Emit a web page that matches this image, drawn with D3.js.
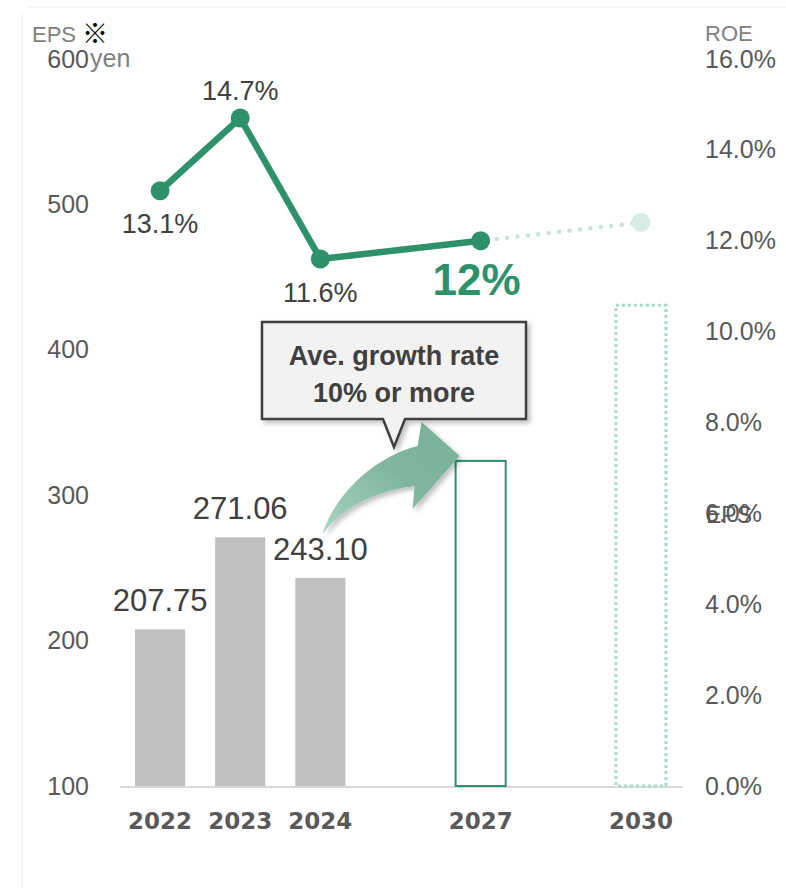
<!DOCTYPE html>
<html>
<head>
<meta charset="utf-8">
<script src="https://cdn.jsdelivr.net/npm/d3@7"></script>
<style>
  body { margin: 0; background: #fff; }
  svg text { font-family: "Liberation Sans", Arial, sans-serif; }
</style>
</head>
<body>
<div id="chart"></div>
<script>
// slots on the x axis (gaps keep 2027 / 2030 apart like the original)
var slots = ["2022", "2023", "2024", "gap1", "2027", "gap2", "2030"];
var years = ["2022", "2023", "2024", "2027", "2030"];
var eps = [207.75, 271.06, 243.10, 323.6, 430.7];
var epsLabels = ["207.75", "271.06", "243.10"];
var barKind = ["actual", "actual", "actual", "target", "vision"];
var roe = [13.1, 14.7, 11.6, 12.0, 12.4];
var roeLabels = ["13.1%", "14.7%", "11.6%", "12%"];
var epsTicks = [100, 200, 300, 400, 500, 600];
var roeTicks = [0, 2, 4, 6, 8, 10, 12, 14, 16];

var W = 786, H = 888;
var green = "#2e9169",
    paleGreen = "#a6dcc9",
    grey = "#bfbfbf",
    textDark = "#404040",
    axisText = "#595959",
    unitText = "#808080";

var svg = d3.select("#chart").append("svg")
    .attr("width", W)
    .attr("height", H);

var defs = svg.append("defs");
var grad = defs.append("linearGradient")
    .attr("id", "arrowGrad")
    .attr("x1", "0%").attr("y1", "100%")
    .attr("x2", "100%").attr("y2", "0%");
grad.append("stop").attr("offset", "0%").attr("stop-color", "#a8d4c2");
grad.append("stop").attr("offset", "55%").attr("stop-color", "#7fb59e");
grad.append("stop").attr("offset", "100%").attr("stop-color", "#79b199");

var shadow = defs.append("filter").attr("id", "shadow")
    .attr("x", "-30%").attr("y", "-30%").attr("width", "160%").attr("height", "160%");
shadow.append("feDropShadow")
    .attr("dx", 3).attr("dy", 3).attr("stdDeviation", 2.5)
    .attr("flood-color", "#000").attr("flood-opacity", 0.25);

// faint frame
svg.append("path")
    .attr("d", "M22,888 V14 M28,7 H786")
    .attr("fill", "none")
    .attr("stroke", "#f2f2f2")
    .attr("stroke-width", 1.5);

var x = d3.scaleBand()
    .domain(slots)
    .range([120, 681])
    .paddingInner(0.375)
    .paddingOuter(0.1875);

var yL = d3.scaleLinear().domain([100, 600]).range([786, 59]);
var yR = d3.scaleLinear().domain([0, 16]).range([786, 59]);

var cx = function(yr) { return x(yr) + x.bandwidth() / 2; };

// left axis
var leftAxis = svg.append("g")
    .attr("transform", "translate(89,0)")
    .call(d3.axisLeft(yL).tickValues(epsTicks).tickSize(0).tickPadding(0));
leftAxis.select(".domain").remove();
leftAxis.selectAll("text")
    .attr("fill", axisText)
    .style("font-size", "25px")
    .style("font-family", "Liberation Sans, Arial, sans-serif");

// right axis
var rightAxis = svg.append("g")
    .attr("transform", "translate(705,0)")
    .call(d3.axisRight(yR).tickValues(roeTicks).tickSize(0).tickPadding(0)
        .tickFormat(function(d) { return d3.format(".1f")(d) + "%"; }));
rightAxis.select(".domain").remove();
rightAxis.selectAll("text")
    .attr("fill", axisText)
    .style("font-size", "25px")
    .style("font-family", "Liberation Sans, Arial, sans-serif");

// unit labels
svg.append("text")
    .attr("x", 32).attr("y", 42)
    .attr("fill", unitText)
    .style("font-size", "22px")
    .text("EPS");
svg.append("text")
    .attr("x", 82).attr("y", 43)
    .attr("fill", "#000")
    .style("font-family", "Noto Sans CJK JP, sans-serif")
    .style("font-size", "26px")
    .text("※");

svg.append("text")
    .attr("x", 90).attr("y", yL(600))
    .attr("dy", "0.32em")
    .attr("fill", unitText)
    .style("font-size", "25px")
    .text("yen");

svg.append("text")
    .attr("x", 705).attr("y", 41)
    .attr("fill", unitText)
    .style("font-size", "22px")
    .text("ROE");

// stray legend label sitting on the 6.0% tick
svg.append("text")
    .attr("x", 706).attr("y", 523)
    .attr("fill", axisText)
    .style("font-size", "23px")
    .text("EPS");

// x axis line
svg.append("line")
    .attr("x1", 120).attr("x2", 683)
    .attr("y1", 787).attr("y2", 787)
    .attr("stroke", "#d9d9d9")
    .attr("stroke-width", 2);

// bars
var barData = years.map(function(yr, i) {
    return { year: yr, value: eps[i], kind: barKind[i] };
});

svg.selectAll("rect.bar")
    .data(barData)
    .enter()
    .append("rect")
    .attr("class", "bar")
    .attr("x", function(d) { return x(d.year); })
    .attr("width", x.bandwidth())
    .attr("y", function(d) { return yL(d.value); })
    .attr("height", function(d) { return yL(100) - yL(d.value); })
    .attr("fill", function(d) { return d.kind === "actual" ? grey : "none"; })
    .attr("stroke", function(d) {
        if (d.kind === "target") return green;
        if (d.kind === "vision") return paleGreen;
        return "none";
    })
    .attr("stroke-width", function(d) { return d.kind === "vision" ? 3 : 2; })
    .attr("stroke-dasharray", function(d) { return d.kind === "vision" ? "3 3" : null; });

// bar value labels
svg.selectAll("text.epsLabel")
    .data(epsLabels)
    .enter()
    .append("text")
    .attr("class", "epsLabel")
    .attr("x", function(d, i) { return cx(years[i]); })
    .attr("y", function(d, i) { return yL(eps[i]) - 18; })
    .attr("text-anchor", "middle")
    .attr("fill", textDark)
    .style("font-size", "31px")
    .text(function(d) { return d; });

// year labels
svg.selectAll("text.year")
    .data(years)
    .enter()
    .append("text")
    .attr("class", "year")
    .attr("x", function(d) { return cx(d); })
    .attr("y", 829)
    .attr("text-anchor", "middle")
    .attr("fill", axisText)
    .style("font-family", "DejaVu Sans, Verdana, sans-serif")
    .style("font-weight", "bold")
    .style("font-size", "23px")
    .text(function(d) { return d; });

// growth arrow from 2024 to the 2027 bar
var tipX = x("2027") + 4, tipY = yL(eps[3]) - 5;
var arrowPath = "M-137,78 C-125,40 -88,2 -42,-10 L-38,-34 L0,0 L-47,53 L-45,30 C-85,35 -118,52 -137,78 Z";
svg.append("path")
    .attr("d", arrowPath)
    .attr("transform", "translate(" + tipX + "," + tipY + ")")
    .attr("fill", "url(#arrowGrad)")
    .attr("filter", "url(#shadow)");

// callout box
var box = { x: 262, y: 322, w: 264, h: 97, px: 394, pw: 11, ph: 28 };
var calloutPath = "M" + box.x + "," + box.y +
    " H" + (box.x + box.w) +
    " V" + (box.y + box.h) +
    " H" + (box.px + box.pw) +
    " L" + box.px + "," + (box.y + box.h + box.ph) +
    " L" + (box.px - box.pw) + "," + (box.y + box.h) +
    " H" + box.x + " Z";
svg.append("path")
    .attr("d", calloutPath)
    .attr("fill", "#f2f2f2")
    .attr("stroke", "#404040")
    .attr("stroke-width", 2.5)
    .attr("stroke-linejoin", "miter")
    .attr("filter", "url(#shadow)");

svg.append("text")
    .attr("x", box.px).attr("y", 365)
    .attr("text-anchor", "middle")
    .attr("fill", textDark)
    .style("font-size", "27px")
    .style("font-weight", "bold")
    .text("Ave. growth rate");
svg.append("text")
    .attr("x", box.px).attr("y", 402)
    .attr("text-anchor", "middle")
    .attr("fill", textDark)
    .style("font-size", "27px")
    .style("font-weight", "bold")
    .text("10% or more");

// ROE line
var pts = years.map(function(yr, i) { return { year: yr, value: roe[i] }; });
var line = d3.line()
    .x(function(d) { return cx(d.year); })
    .y(function(d) { return yR(d.value); });

svg.append("path")
    .attr("d", line(pts.slice(3)))
    .attr("fill", "none")
    .attr("stroke", "#c6e5d8")
    .attr("stroke-width", 4.5)
    .attr("stroke-linecap", "round")
    .attr("stroke-dasharray", "0 10.5")
    .attr("stroke-dashoffset", -16);

svg.append("path")
    .attr("d", line(pts.slice(0, 4)))
    .attr("fill", "none")
    .attr("stroke", green)
    .attr("stroke-width", 6.5)
    .attr("stroke-linejoin", "round");

svg.selectAll("circle.roe")
    .data(pts)
    .enter()
    .append("circle")
    .attr("class", "roe")
    .attr("cx", function(d) { return cx(d.year); })
    .attr("cy", function(d) { return yR(d.value); })
    .attr("r", 9.5)
    .attr("fill", function(d, i) { return i === 4 ? "#d6ede3" : green; });

// ROE labels: above for 2023, below for the rest; 2027 target big & bold
var roeDy = [42, -18, 43, 54];
svg.selectAll("text.roeLabel")
    .data(roeLabels)
    .enter()
    .append("text")
    .attr("class", "roeLabel")
    .attr("x", function(d, i) { return cx(years[i]) - (i === 3 ? 4 : 0); })
    .attr("y", function(d, i) { return yR(roe[i]) + roeDy[i]; })
    .attr("text-anchor", "middle")
    .attr("fill", function(d, i) { return i === 3 ? green : textDark; })
    .style("font-size", function(d, i) { return i === 3 ? "44px" : "27px"; })
    .style("font-weight", function(d, i) { return i === 3 ? "bold" : "normal"; })
    .text(function(d) { return d; });
</script>
</body>
</html>
